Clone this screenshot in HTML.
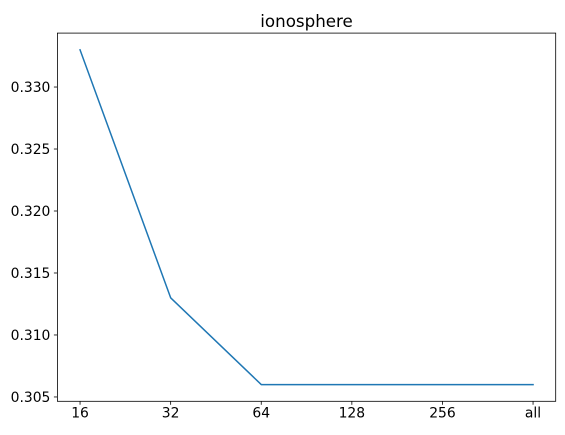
<!DOCTYPE html>
<html><head><meta charset="utf-8"><style>
body{margin:0;background:#fff;}
svg{display:block;font-family:"DejaVu Sans","Liberation Sans",sans-serif;}
</style></head><body>
<svg id="chart" width="565" height="435" xmlns="http://www.w3.org/2000/svg"></svg>
<script>
const categories = ["16","32","64","128","256","all"];
const values = [0.333, 0.313, 0.306, 0.306, 0.306, 0.306];
const yTicks = [0.305, 0.310, 0.315, 0.320, 0.325, 0.330];
const yTickLabels = ["0.305","0.310","0.315","0.320","0.325","0.330"];
const title = "ionosphere";

const svg = document.getElementById('chart');
const NS = "http://www.w3.org/2000/svg";
const L=57.4, R=555.7, T=33.1, B=401.3;
const n = categories.length;
const xPad = (n-1)*0.05;
const yMin = Math.min(...values), yMax = Math.max(...values);
const yPad = (yMax-yMin)*0.05;
function x(i){return L + (i + xPad)/((n-1)+2*xPad)*(R-L);}
function y(v){return B - (v-(yMin-yPad))/((yMax-yMin)+2*yPad)*(B-T);}
function el(tag, attrs, parent){const e=document.createElementNS(NS,tag);for(const k in attrs)e.setAttribute(k,attrs[k]);(parent||svg).appendChild(e);return e;}

const frame = el('rect',{x:L,y:T,width:R-L,height:B-T,fill:'none',stroke:'#000','stroke-width':0.8});



categories.forEach((c,i)=>{
  const t = el('line',{x1:x(i),x2:x(i),y1:B,y2:B+3.5,stroke:'#000','stroke-width':0.8});
  
  
  const lb = el('text',{x:x(i),y:B+16,'text-anchor':'middle','font-size':13.9,fill:'#000'});
  lb.textContent=c;
  
  
});
yTicks.forEach((v,i)=>{
  const t = el('line',{x1:L-3.5,x2:L,y1:y(v),y2:y(v),stroke:'#000','stroke-width':0.8});
  
  
  const lb = el('text',{x:L-7,y:y(v)+5,'text-anchor':'end','font-size':13.9,fill:'#000'});
  lb.textContent=yTickLabels[i];
  
  
});
const pts = values.map((v,i)=>x(i)+','+y(v)).join(' ');
const line = el('polyline',{points:pts,fill:'none',stroke:'#1f77b4','stroke-width':1.5,'stroke-linejoin':'round','stroke-linecap':'square'});


const tt = el('text',{x:(L+R)/2,y:T-6,'text-anchor':'middle','font-size':16.7,fill:'#000'});
tt.textContent=title;


</script>
</body></html>
